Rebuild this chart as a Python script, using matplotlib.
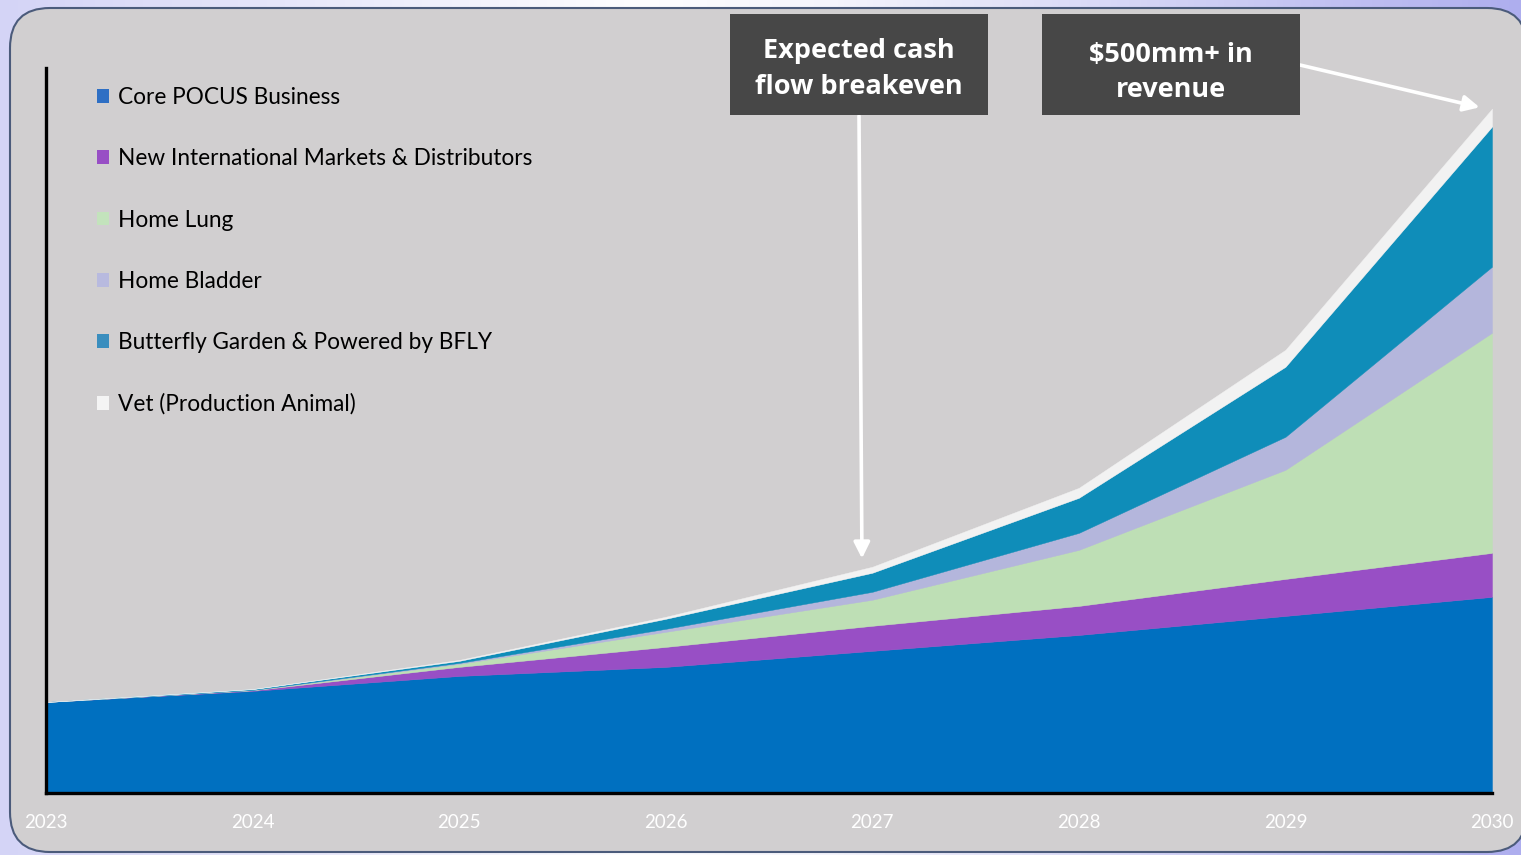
import numpy as np
import matplotlib
matplotlib.use("Agg")
import matplotlib.pyplot as plt
from matplotlib.patches import FancyBboxPatch, Rectangle, Patch
from matplotlib.transforms import IdentityTransform
from matplotlib.colors import LinearSegmentedColormap

# Revenue build-up by segment, $mm
years = [2023, 2024, 2025, 2026, 2027, 2028, 2029, 2030]
core = [66.4, 74.5, 85.4, 92.0, 103.7, 115.3, 129.2, 143.1]
intl = [0.0, 0.4, 6.6, 14.6, 18.3, 21.2, 27.0, 32.1]
home_lung = [0.0, 0.2, 2.2, 11.0, 19.0, 40.9, 79.6, 160.6]
home_bladder = [0.0, 0.1, 0.7, 2.2, 5.8, 12.4, 24.1, 48.2]
garden = [0.0, 0.6, 1.5, 7.3, 13.9, 25.6, 51.1, 102.2]
vet = [0.0, 0.1, 0.7, 1.5, 4.4, 7.3, 12.4, 13.1]

labels = ["Core POCUS Business", "New International Markets & Distributors",
          "Home Lung", "Home Bladder", "Butterfly Garden & Powered by BFLY",
          "Vet (Production Animal)"]
fill_colors = ["#0070C0", "#984FC5", "#BEDFB5", "#B4B6DC", "#0F8DB9", "#F2F2F2"]
legend_colors = ["#2E6FC4", "#984FC5", "#C3E3BC", "#B8BADF", "#3A8EBE", "#F4F4F4"]

W, H = 1521, 855
fig = plt.figure(figsize=(W / 100, H / 100), dpi=100)

# lavender slide background
bg = fig.add_axes([0, 0, 1, 1], zorder=-10)
cmap = LinearSegmentedColormap.from_list(
    "bg", [(0, "#D4D4F6"), (0.42, "#FDFDFF"), (0.55, "#F4F4FC"), (1, "#AEAEEE")])
bg.imshow(np.linspace(0, 1, 256)[None, :], aspect="auto", cmap=cmap,
          extent=[0, 1, 0, 1])
bg.axis("off")

# gray rounded panel (pixel coordinates)
panel = FancyBboxPatch((10, 3), 1517, 844, boxstyle="round,pad=0,rounding_size=40",
                       transform=IdentityTransform(), facecolor="#D1CFD0",
                       edgecolor="#4B5B7B", linewidth=1.5, zorder=-5)
fig.add_artist(panel)

# main axes
x0, x1, yb, yt = 46, 1492, 793, 68
ax = fig.add_axes([x0 / W, 1 - yb / H, (x1 - x0) / W, (yb - yt) / H])
ax.set_facecolor("none")
ax.stackplot(years, core, intl, home_lung, home_bladder, garden, vet,
             colors=fill_colors, edgecolor="face", linewidth=0.3)
ax.set_xlim(2023, 2030)
ax.set_ylim(0, 529)
for s in ["top", "right"]:
    ax.spines[s].set_visible(False)
for s in ["left", "bottom"]:
    ax.spines[s].set_linewidth(2.4)
    ax.spines[s].set_color("black")
    ax.spines[s].set_zorder(5)
ax.set_yticks([])
ax.set_xticks(years)
ax.set_xticklabels([str(y) for y in years])
ax.tick_params(axis="x", length=0, pad=15, labelsize=13.5, labelcolor="white")
for t in ax.get_xticklabels():
    t.set_family("Lato")

handles = [Patch(facecolor=c, edgecolor="none") for c in legend_colors]
ax.legend(handles, labels, loc="upper left", bbox_to_anchor=(97 / W, 1 - 87 / H),
          bbox_transform=fig.transFigure, frameon=False,
          prop={"family": "Lato", "size": 16.3},
          handlelength=0.55, handleheight=0.55, handletextpad=0.38,
          labelspacing=1.78, borderpad=0, borderaxespad=0)

# callout boxes
boxes = [(730, 14, 258, 101, "Expected cash\nflow breakeven", 69),
         (1042, 14, 258, 101, "$500mm+ in\nrevenue", 72.5)]
for bx, by, bw, bh, txt, cy in boxes:
    fig.add_artist(Rectangle((bx, H - by - bh), bw, bh, transform=IdentityTransform(),
                             facecolor="#474747", edgecolor="none", zorder=6))
    fig.text((bx + bw / 2) / W, 1 - cy / H, txt, ha="center", va="center",
             color="white", fontsize=19.5, fontweight="bold", family="Open Sans",
             linespacing=1.46, zorder=7)

total = np.sum([core, intl, home_lung, home_bladder, garden, vet], axis=0)
arrow = dict(arrowstyle="-|>", color="white", lw=2.6, mutation_scale=24,
             shrinkA=0, shrinkB=0)
ax.annotate("", xy=(2026.95, total[4] + 6), xycoords="data",
            xytext=(859 / W, 1 - 116 / H), textcoords="figure fraction",
            arrowprops=arrow, zorder=8)
ax.annotate("", xy=(2029.94, total[7] + 1), xycoords="data",
            xytext=(1300 / W, 1 - 65 / H), textcoords="figure fraction",
            arrowprops=arrow, zorder=8)

fig.savefig("out.png", dpi=100)
